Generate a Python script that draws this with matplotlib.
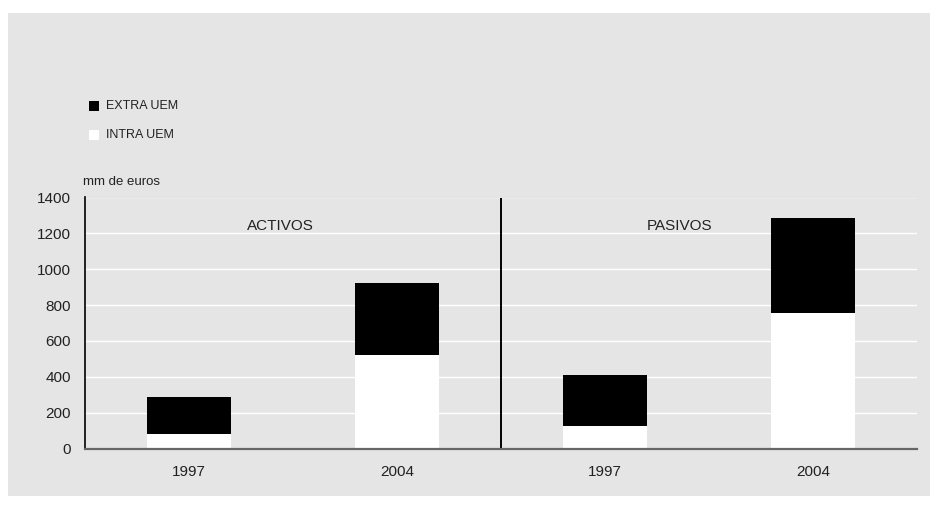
import matplotlib
matplotlib.use("Agg")
import matplotlib.pyplot as plt
from matplotlib.patches import Rectangle

plt.rcParams['font.family'] = ['Liberation Sans', 'DejaVu Sans']

categories = ["1997", "2004", "1997", "2004"]
intra_uem = [80, 523, 125, 755]
extra_uem = [207, 398, 285, 530]
panel_labels = ["ACTIVOS", "PASIVOS"]
yticks = [0, 200, 400, 600, 800, 1000, 1200, 1400]

W, H = 938, 509
fig = plt.figure(figsize=(W / 100, H / 100), dpi=100)
fig.patch.set_facecolor("white")
fig.add_artist(Rectangle((8 / W, 1 - 496 / H), (930 - 8) / W, (496 - 13) / H,
                         transform=fig.transFigure, facecolor="#e5e5e5",
                         edgecolor="none", zorder=0))

ax = fig.add_axes([85 / W, 1 - 448.5 / H, (917 - 85) / W, (448.5 - 197.5) / H])
ax.set_facecolor("#e5e5e5")
ax.set_zorder(1)

x = list(range(len(categories)))
ax.bar(x, intra_uem, width=0.405, color="white", zorder=3, label="INTRA UEM")
ax.bar(x, extra_uem, width=0.405, bottom=intra_uem, color="black", zorder=3,
       label="EXTRA UEM")

ax.set_xlim(-0.5, 3.5)
ax.set_ylim(0, 1400)
ax.set_yticks(yticks)
ax.set_xticks(x)
ax.set_xticklabels(categories)
ax.tick_params(axis="both", length=0, labelsize=11, colors="#222222")
ax.tick_params(axis="y", pad=10)
ax.tick_params(axis="x", pad=12)
ax.grid(axis="y", color="white", linewidth=1.0, zorder=1)
ax.set_axisbelow(True)

for s in ["top", "right"]:
    ax.spines[s].set_visible(False)
ax.spines["left"].set_color("black")
ax.spines["left"].set_linewidth(1.2)
ax.spines["bottom"].set_color("#666666")
ax.spines["bottom"].set_linewidth(1.6)
ax.spines["bottom"].set_zorder(4)

ax.axvline(1.5, ymin=0, ymax=1, color="black", linewidth=1.4, zorder=4)

ax.text(0.44, 1241, panel_labels[0], ha="center", va="center", fontsize=11,
        color="#222222", zorder=5)
ax.text(2.36, 1241, panel_labels[1], ha="center", va="center", fontsize=11,
        color="#222222", zorder=5)

fig.text(83 / W, 1 - 182 / H, "mm de euros", ha="left", va="center",
         fontsize=9.5, color="#222222")

# legend
fig.add_artist(Rectangle((89 / W, 1 - 111 / H), 10 / W, 10 / H,
                         transform=fig.transFigure, facecolor="black",
                         edgecolor="none"))
fig.text(106 / W, 1 - 106 / H, "EXTRA UEM", ha="left", va="center",
         fontsize=9, color="#222222")
fig.add_artist(Rectangle((89 / W, 1 - 140 / H), 10 / W, 10 / H,
                         transform=fig.transFigure, facecolor="white",
                         edgecolor="none"))
fig.text(106 / W, 1 - 135 / H, "INTRA UEM", ha="left", va="center",
         fontsize=9, color="#222222")

fig.savefig("out.png", dpi=100)
